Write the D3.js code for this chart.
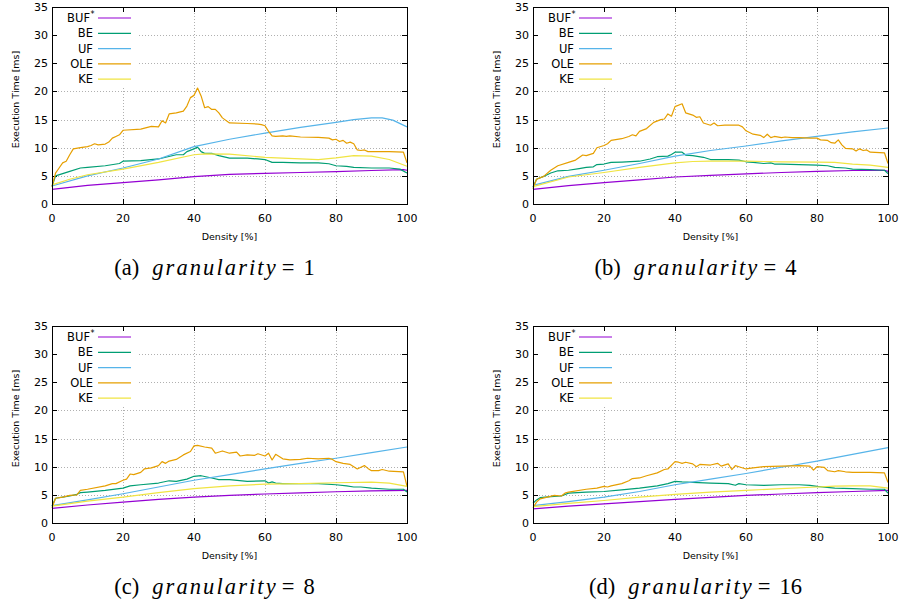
<!DOCTYPE html>
<html>
<head>
<meta charset="utf-8">
<script src="https://cdn.jsdelivr.net/npm/d3@7/dist/d3.min.js"></script>
<style>
  body { margin: 0; background: #fff; }
  svg { display: block; }
</style>
</head>
<body>
<svg id="chart" width="901" height="608"></svg>
<script>
// series names + gnuplot default colours
const SERIES = ["BUF", "BE", "UF", "OLE", "KE"];
const COLORS = ["#9400d3", "#009e73", "#56b4e9", "#e69f00", "#f0e442"];

const X_TICKS = [0, 20, 40, 60, 80, 100];
const Y_TICKS = [0, 5, 10, 15, 20, 25, 30, 35];

const PANEL_IDS   = ["(a)", "(b)", "(c)", "(d)"];
const GRANULARITY = [1, 4, 8, 16];

// (a) granularity = 1   -> [density %, time ms]
const a_BUF = [[0,2.6],[10,3.3],[20,3.8],[30,4.3],[40,4.85],[50,5.25],[60,5.45],[70,5.6],[80,5.75],[90,5.95],[99,6.1],[100,6.0]];
const a_BE  = [[0,3.1],[1,5.0],[5,5.8],[8,6.4],[10,6.5],[15,6.8],[19,7.2],[20,7.6],[25,7.7],[30,8.0],[35,8.75],[37,8.75],[38,9.3],[40,9.8],[41,10.1],[42,9.3],[43,9.0],[45,9.0],[47,8.6],[50,8.15],[55,8.15],[58,8.0],[60,7.9],[62,7.4],[65,7.4],[70,7.3],[75,7.3],[78,7.15],[80,6.8],[83,6.7],[85,6.5],[90,6.4],[95,6.4],[98,6.2],[100,5.5]];
const a_UF  = [[0,3.2],[10,5.0],[20,6.4],[30,8.0],[40,10.2],[50,11.5],[60,12.6],[70,13.6],[80,14.5],[85,15.0],[90,15.3],[93,15.3],[96,14.9],[100,13.7]];
const a_OLE = [[0,3.1],[1,5.5],[2,6.4],[3,7.3],[4,7.6],[5,8.75],[6,9.8],[8,10.0],[10,10.2],[11,10.4],[12,10.7],[13,10.5],[15,10.65],[16,11.0],[17,11.7],[18,12.0],[19,12.3],[20,13.1],[25,13.3],[28,13.8],[30,13.7],[31,14.8],[32,14.4],[33,16.0],[35,16.2],[37,16.5],[38,17.4],[39,18.9],[40,19.3],[41,20.6],[42,19.2],[43,17.1],[44,17.3],[45,16.8],[46,16.8],[47,16.2],[48,15.3],[50,14.4],[55,14.3],[58,14.2],[59,14.1],[60,13.9],[61,12.9],[62,12.1],[63,12.0],[65,12.1],[66,12.0],[67,12.1],[70,11.9],[75,11.85],[78,11.7],[79,11.4],[80,11.5],[81,11.1],[82,11.3],[83,10.8],[84,11.0],[85,10.7],[86,9.6],[87,9.5],[88,9.6],[89,9.3],[90,9.3],[95,9.3],[99,9.2],[100,7.3]];
const a_KE  = [[0,3.4],[5,4.4],[10,5.2],[20,6.2],[30,7.4],[40,8.75],[43,8.9],[50,8.85],[60,8.3],[70,8.0],[75,7.9],[80,8.2],[85,8.6],[90,8.5],[95,7.9],[100,6.7]];

// (b) granularity = 4
const b_BUF = [[0,2.6],[10,3.25],[20,3.8],[30,4.3],[40,4.8],[50,5.1],[60,5.35],[70,5.6],[80,5.8],[90,5.95],[99,6.0],[100,5.8]];
const b_BE  = [[0,3.0],[1,4.4],[3,4.9],[5,5.5],[7,5.9],[10,6.0],[13,6.3],[15,6.5],[17,6.6],[18,7.0],[20,7.1],[22,7.4],[25,7.45],[30,7.6],[33,8.0],[35,8.4],[38,8.5],[39,8.8],[40,9.2],[42,9.2],[43,8.7],[45,8.6],[48,8.3],[50,7.9],[55,7.9],[58,7.8],[60,7.5],[62,7.4],[65,7.2],[67,7.3],[68,7.1],[70,7.1],[75,7.0],[80,6.9],[83,6.8],[85,6.5],[88,6.4],[90,6.2],[95,6.1],[99,6.0],[100,5.4]];
const b_UF  = [[0,3.3],[10,4.9],[20,6.0],[30,7.2],[40,8.5],[50,9.5],[60,10.3],[70,11.2],[80,12.0],[90,12.8],[100,13.5]];
const b_OLE = [[0,2.7],[1,4.4],[3,4.9],[5,6.0],[7,6.8],[10,7.4],[12,7.8],[14,8.7],[15,8.6],[17,9.0],[18,10.0],[20,10.4],[21,10.7],[22,11.3],[25,11.6],[27,12.0],[28,12.3],[29,12.1],[30,12.9],[32,13.4],[34,14.5],[36,15.0],[37,15.1],[38,16.0],[39,15.6],[40,17.3],[42,17.8],[43,16.2],[45,15.8],[46,15.4],[47,15.5],[48,14.4],[50,14.0],[51,14.4],[52,13.9],[54,14.0],[58,14.0],[59,13.7],[60,13.0],[62,12.4],[64,12.2],[65,11.8],[66,12.4],[67,11.8],[68,12.0],[70,11.8],[71,11.9],[73,11.8],[75,11.8],[78,11.7],[80,11.7],[81,11.4],[83,11.3],[84,10.9],[85,10.8],[86,11.4],[87,10.5],[88,9.9],[90,9.8],[91,9.4],[92,9.8],[93,9.5],[94,9.6],[95,9.2],[99,9.1],[100,7.2]];
const b_KE  = [[0,3.1],[10,4.8],[20,5.6],[30,6.5],[40,7.3],[45,7.55],[50,7.6],[60,7.6],[70,7.5],[80,7.45],[85,7.4],[90,7.1],[95,6.9],[100,6.5]];

// (c) granularity = 8
const c_BUF = [[0,2.6],[10,3.2],[20,3.7],[30,4.2],[40,4.6],[50,4.9],[60,5.15],[70,5.35],[80,5.55],[90,5.7],[100,5.8]];
const c_BE  = [[0,3.0],[1,4.4],[3,4.6],[5,4.8],[7,5.1],[8,5.4],[10,5.5],[15,5.8],[20,6.2],[22,6.6],[25,6.8],[30,7.1],[33,7.5],[35,7.4],[38,7.8],[40,8.3],[42,8.4],[45,8.0],[47,7.7],[50,7.7],[55,7.4],[60,7.5],[61,7.1],[62,7.3],[63,7.1],[65,7.0],[70,7.0],[75,7.0],[80,6.8],[83,6.6],[85,6.4],[87,6.4],[90,6.2],[95,6.0],[99,6.0],[100,5.5]];
const c_UF  = [[0,3.1],[10,4.1],[20,5.2],[30,6.4],[40,7.6],[50,8.6],[60,9.6],[70,10.6],[80,11.5],[90,12.5],[100,13.5]];
const c_OLE = [[0,2.7],[1,4.4],[3,4.6],[5,4.9],[7,5.0],[8,5.8],[10,6.0],[15,6.6],[17,7.0],[18,7.0],[20,7.6],[21,7.8],[22,8.7],[23,8.6],[25,9.0],[26,9.6],[28,9.8],[30,10.2],[31,10.9],[32,10.6],[33,11.0],[35,11.3],[37,12.1],[39,12.7],[40,13.7],[41,13.8],[43,13.5],[45,13.3],[46,12.4],[48,12.8],[50,12.4],[52,12.6],[53,11.9],[55,12.1],[57,12.0],[58,12.3],[60,11.9],[61,12.4],[62,11.2],[63,12.2],[65,11.4],[67,11.2],[70,11.3],[72,11.5],[75,11.4],[78,11.5],[79,11.3],[80,10.9],[82,10.6],[84,10.4],[86,9.6],[87,9.9],[88,10.2],[89,9.7],[90,9.3],[92,9.3],[93,9.5],[95,9.2],[99,9.1],[100,6.5]];
const c_KE  = [[0,3.0],[10,3.9],[20,4.6],[30,5.4],[40,6.1],[50,6.6],[60,6.9],[70,7.0],[80,7.15],[90,7.25],[95,7.1],[100,6.5]];

// (d) granularity = 16
const d_BUF = [[0,2.5],[10,3.0],[20,3.4],[30,3.8],[40,4.2],[50,4.55],[60,4.9],[70,5.15],[80,5.4],[90,5.6],[100,5.8]];
const d_BE  = [[0,3.5],[1,4.1],[2,4.5],[5,4.7],[8,4.8],[10,5.3],[15,5.5],[20,5.6],[25,5.9],[30,6.2],[35,6.6],[38,7.0],[40,7.4],[42,7.3],[45,7.2],[50,7.1],[55,7.0],[57,6.7],[58,7.0],[60,6.8],[65,6.7],[70,6.8],[75,6.8],[78,6.7],[80,6.5],[85,6.2],[90,6.1],[95,6.0],[99,6.0],[100,5.3]];
const d_UF  = [[0,3.1],[10,3.8],[20,4.6],[30,5.6],[40,6.8],[50,7.8],[60,8.8],[70,9.9],[80,11.0],[90,12.2],[100,13.4]];
const d_OLE = [[0,2.7],[1,3.7],[2,4.3],[4,4.6],[6,4.9],[8,4.8],[9,5.3],[10,5.5],[15,6.0],[18,6.2],[20,6.5],[21,6.4],[22,6.6],[25,7.0],[27,7.5],[28,7.9],[30,8.0],[32,8.4],[35,8.9],[37,9.5],[38,9.6],[40,10.9],[41,10.8],[42,10.6],[43,10.8],[45,10.5],[46,10.0],[47,10.4],[50,10.3],[52,10.6],[53,10.1],[55,10.5],[56,9.5],[57,10.2],[58,10.0],[60,9.6],[62,9.8],[65,10.0],[70,10.1],[75,10.2],[78,10.1],[79,9.4],[80,10.0],[82,9.9],[83,9.3],[85,9.1],[86,9.3],[88,9.1],[90,9.0],[95,9.0],[99,8.9],[100,7.2]];
const d_KE  = [[0,2.9],[10,3.5],[20,4.0],[30,4.6],[40,5.1],[50,5.5],[60,5.8],[70,6.1],[80,6.4],[85,6.55],[90,6.6],[95,6.6],[100,6.2]];

const PANEL_DATA = [
    [a_BUF, a_BE, a_UF, a_OLE, a_KE],
    [b_BUF, b_BE, b_UF, b_OLE, b_KE],
    [c_BUF, c_BE, c_UF, c_OLE, c_KE],
    [d_BUF, d_BE, d_UF, d_OLE, d_KE]
];

// layout
const W = 355, H = 197;
const LEFTS = [52, 533];
const TOPS  = [7, 326];
const TICK = 5;
const SANS = "'DejaVu Sans', Verdana, sans-serif";
const SERIF = "'Liberation Serif', 'DejaVu Serif', serif";

const $svg = d3.select("#chart");

const x = d3.scaleLinear().domain([0, 100]).range([0, W]);
const y = d3.scaleLinear().domain([0, 35]).range([H, 0]);

const line = d3.line()
    .x(d => x(d[0]))
    .y(d => y(d[1]));

PANEL_DATA.forEach(function(series, i) {
    const left = LEFTS[i % 2];
    const top  = TOPS[Math.floor(i / 2)];

    const g = $svg.append("g").attr("transform", `translate(${left},${top})`);

    // dotted grid
    g.append("g").selectAll("line")
        .data(X_TICKS.slice(1, -1))
        .join("line")
        .attr("x1", d => Math.round(x(d)) + 0.5).attr("x2", d => Math.round(x(d)) + 0.5)
        .attr("y1", 0).attr("y2", H)
        .attr("stroke", "#b0b0b0").attr("stroke-width", 1)
        .attr("stroke-dasharray", "1,2");

    g.append("g").selectAll("line")
        .data(Y_TICKS.slice(1, -1))
        .join("line")
        .attr("x1", 0).attr("x2", W)
        .attr("y1", d => Math.round(y(d)) + 0.5).attr("y2", d => Math.round(y(d)) + 0.5)
        .attr("stroke", "#b0b0b0").attr("stroke-width", 1)
        .attr("stroke-dasharray", "1,2");

    // legend box (opaque, hides grid)
    g.append("rect")
        .attr("x", 1).attr("y", 1)
        .attr("width", 84).attr("height", 79)
        .attr("fill", "#fff");

    // ticks, mirrored on all four sides
    const tk = g.append("g").attr("stroke", "#000").attr("stroke-width", 1);
    X_TICKS.forEach(function(t) {
        const xx = Math.round(x(t)) + 0.5;
        tk.append("line").attr("x1", xx).attr("x2", xx).attr("y1", H).attr("y2", H - TICK);
        tk.append("line").attr("x1", xx).attr("x2", xx).attr("y1", 0).attr("y2", TICK);
    });
    Y_TICKS.forEach(function(t) {
        const yy = Math.round(y(t)) + 0.5;
        tk.append("line").attr("x1", 0).attr("x2", TICK).attr("y1", yy).attr("y2", yy);
        tk.append("line").attr("x1", W).attr("x2", W - TICK).attr("y1", yy).attr("y2", yy);
    });

    // data lines
    g.append("g").selectAll("path")
        .data(series)
        .join("path")
        .attr("d", line)
        .attr("fill", "none")
        .attr("stroke", (d, j) => COLORS[j])
        .attr("stroke-width", 1.2)
        .attr("stroke-linejoin", "round");

    // frame
    g.append("rect")
        .attr("x", 0.5).attr("y", 0.5)
        .attr("width", W).attr("height", H)
        .attr("fill", "none").attr("stroke", "#000").attr("stroke-width", 1);

    // tick labels
    g.append("g").selectAll("text")
        .data(X_TICKS)
        .join("text")
        .attr("x", d => x(d))
        .attr("y", H + 18)
        .attr("text-anchor", "middle")
        .attr("font-family", SANS).attr("font-size", 11)
        .text(d => d);

    g.append("g").selectAll("text")
        .data(Y_TICKS)
        .join("text")
        .attr("x", -4)
        .attr("y", d => y(d) + 4)
        .attr("text-anchor", "end")
        .attr("font-family", SANS).attr("font-size", 11)
        .text(d => d);

    // axis titles
    g.append("text")
        .attr("x", W / 2).attr("y", H + 36)
        .attr("text-anchor", "middle")
        .attr("font-family", SANS).attr("font-size", 9.5)
        .text("Density [%]");

    g.append("text")
        .attr("transform", `translate(-33,${H / 2 - 6}) rotate(-90)`)
        .attr("text-anchor", "middle")
        .attr("font-family", SANS).attr("font-size", 9.5)
        .text("Execution Time [ms]");

    // legend
    const lg = g.append("g");
    SERIES.forEach(function(name, j) {
        const ly = 11 + j * 15.3;
        lg.append("text")
            .attr("x", j === 0 ? 38 : 41).attr("y", ly + 4)
            .attr("text-anchor", "end")
            .attr("font-family", SANS).attr("font-size", 11.5)
            .text(name);
        if (j === 0) {
            lg.append("text")
                .attr("x", 38.5).attr("y", ly - 1)
                .attr("font-family", SANS).attr("font-size", 8)
                .text("*");
        }
        lg.append("line")
            .attr("x1", 46).attr("x2", 79)
            .attr("y1", ly).attr("y2", ly)
            .attr("stroke", COLORS[j]).attr("stroke-width", 1.2);
    });

    // caption: (x) granularity = n
    const cap = g.append("text")
        .attr("x", W / 2 - 15).attr("y", H + 71)
        .attr("text-anchor", "middle")
        .attr("font-family", SERIF).attr("font-size", 22.5);
    cap.append("tspan").text(PANEL_IDS[i]);
    cap.append("tspan").attr("dx", 13).attr("font-style", "italic")
        .attr("letter-spacing", 2.1).text("granularity");
    cap.append("tspan").attr("dx", 4).text("=");
    cap.append("tspan").attr("dx", 9).text(GRANULARITY[i]);
});
</script>
</body>
</html>
